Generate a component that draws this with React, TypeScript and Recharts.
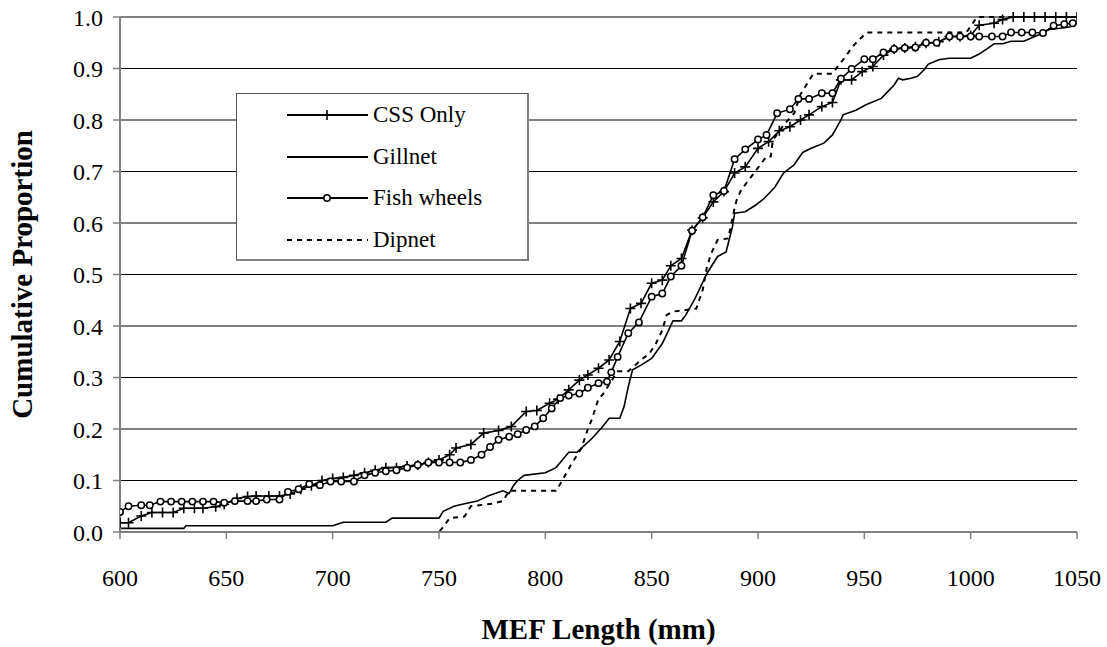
import * as React from 'react';
import { LineChart, Line, XAxis, YAxis, CartesianGrid, Legend, Label } from 'recharts';

const FONT = '"Liberation Serif", "Times New Roman", serif';

const xTicks = [600, 650, 700, 750, 800, 850, 900, 950, 1000, 1050];
const yTicks = [0, 0.1, 0.2, 0.3, 0.4, 0.5, 0.6, 0.7, 0.8, 0.9, 1.0];

// CSS Only
const cssLength = [600, 604, 610, 615, 620, 625, 630, 635, 639, 645, 649, 655, 660, 664, 670, 675, 680, 685, 690, 695, 700, 705, 710, 715, 720, 725, 730, 735, 740, 745, 750, 755, 758, 765, 771, 778, 784, 791, 796, 802, 806, 811, 816, 820, 825, 830, 835, 840, 845, 850, 855, 859, 864, 869, 874, 879, 884, 889, 894, 900, 905, 910, 915, 920, 924, 930, 935, 939, 944, 949, 954, 959, 964, 969, 974, 979, 985, 990, 995, 1000, 1004, 1011, 1015, 1020, 1025, 1030, 1035, 1040, 1045, 1050];
const cssProp = [0.018, 0.018, 0.031, 0.038, 0.038, 0.038, 0.046, 0.046, 0.046, 0.049, 0.054, 0.065, 0.069, 0.07, 0.07, 0.07, 0.074, 0.083, 0.09, 0.1, 0.104, 0.106, 0.11, 0.115, 0.12, 0.125, 0.125, 0.128, 0.13, 0.135, 0.14, 0.15, 0.163, 0.17, 0.192, 0.197, 0.205, 0.234, 0.236, 0.25, 0.258, 0.276, 0.295, 0.305, 0.318, 0.334, 0.37, 0.434, 0.444, 0.483, 0.489, 0.517, 0.531, 0.586, 0.61, 0.641, 0.661, 0.697, 0.709, 0.745, 0.758, 0.779, 0.787, 0.8, 0.81, 0.826, 0.834, 0.878, 0.878, 0.894, 0.904, 0.926, 0.938, 0.94, 0.942, 0.949, 0.952, 0.962, 0.962, 0.964, 0.984, 0.988, 0.995, 1, 1, 1, 1, 1, 1, 1];

// Gillnet
const gnLength = [600, 630, 631, 700, 705, 725, 728, 750, 752, 757, 762, 768, 773, 780, 783, 785, 787, 790, 800, 805, 808, 811, 815, 817, 822, 827, 830, 835, 837, 839, 841, 845, 850, 855, 858, 860, 864, 866, 870, 873, 876, 881, 885, 888, 889, 894, 899, 903, 908, 912, 917, 921, 925, 931, 935, 939, 940, 946, 951, 958, 961, 964, 966, 968, 972, 975, 978, 980, 985, 990, 1000, 1004, 1008, 1011, 1015, 1019, 1025, 1029, 1033, 1037, 1042, 1047, 1050];
const gnProp = [0.007, 0.007, 0.012, 0.012, 0.019, 0.019, 0.027, 0.027, 0.04, 0.05, 0.055, 0.06, 0.07, 0.08, 0.075, 0.09, 0.1, 0.11, 0.115, 0.125, 0.14, 0.155, 0.155, 0.163, 0.182, 0.205, 0.221, 0.221, 0.243, 0.282, 0.315, 0.324, 0.337, 0.366, 0.392, 0.41, 0.41, 0.421, 0.45, 0.476, 0.502, 0.535, 0.544, 0.593, 0.619, 0.622, 0.635, 0.648, 0.67, 0.697, 0.713, 0.737, 0.745, 0.755, 0.771, 0.8, 0.81, 0.819, 0.83, 0.842, 0.855, 0.868, 0.881, 0.878, 0.881, 0.885, 0.897, 0.908, 0.917, 0.92, 0.92, 0.928, 0.939, 0.948, 0.948, 0.953, 0.953, 0.96, 0.967, 0.976, 0.978, 0.981, 0.988];

// Fish wheels
const fwLength = [600, 604, 610, 614, 619, 624, 629, 634, 639, 644, 649, 654, 660, 664, 669, 675, 679, 684, 689, 694, 699, 704, 710, 715, 720, 725, 730, 735, 740, 745, 750, 755, 760, 765, 770, 774, 778, 783, 787, 791, 795, 799, 803, 807, 811, 816, 820, 825, 829, 831, 834, 839, 844, 850, 855, 859, 864, 869, 874, 879, 884, 889, 894, 900, 904, 909, 915, 919, 924, 930, 935, 939, 944, 950, 954, 959, 964, 969, 974, 979, 984, 990, 995, 1000, 1004, 1010, 1015, 1019, 1024, 1029, 1034, 1039, 1044, 1048];
const fwProp = [0.039, 0.05, 0.052, 0.052, 0.059, 0.059, 0.059, 0.059, 0.059, 0.059, 0.057, 0.06, 0.06, 0.06, 0.063, 0.063, 0.078, 0.083, 0.093, 0.091, 0.098, 0.098, 0.098, 0.11, 0.115, 0.118, 0.12, 0.125, 0.13, 0.135, 0.135, 0.135, 0.135, 0.14, 0.15, 0.165, 0.179, 0.185, 0.19, 0.198, 0.205, 0.221, 0.24, 0.26, 0.265, 0.269, 0.28, 0.289, 0.292, 0.31, 0.34, 0.386, 0.407, 0.457, 0.463, 0.496, 0.517, 0.585, 0.611, 0.654, 0.662, 0.724, 0.743, 0.762, 0.771, 0.813, 0.821, 0.841, 0.841, 0.852, 0.852, 0.88, 0.899, 0.918, 0.918, 0.931, 0.938, 0.94, 0.941, 0.95, 0.95, 0.962, 0.962, 0.962, 0.962, 0.962, 0.962, 0.97, 0.97, 0.97, 0.969, 0.983, 0.986, 0.988];

// Dipnet
const dpLength = [600, 750, 752, 755, 762, 765, 775, 780, 783, 805, 808, 812, 815, 817, 820, 822, 825, 827, 834, 839, 845, 849, 852, 855, 857, 860, 866, 871, 874, 876, 878, 881, 886, 889, 890, 892, 895, 904, 906, 907, 912, 917, 920, 926, 935, 940, 945, 951, 998, 1003, 1050];
const dpProp = [0, 0, 0.01, 0.027, 0.03, 0.05, 0.055, 0.06, 0.08, 0.08, 0.1, 0.13, 0.15, 0.163, 0.2, 0.22, 0.259, 0.267, 0.312, 0.312, 0.334, 0.347, 0.366, 0.392, 0.421, 0.428, 0.431, 0.434, 0.47, 0.515, 0.541, 0.567, 0.57, 0.629, 0.645, 0.664, 0.68, 0.729, 0.729, 0.761, 0.79, 0.813, 0.85, 0.89, 0.89, 0.917, 0.945, 0.97, 0.97, 1, 1];

const toPoints = (xs: number[], ps: number[]) => xs.map((x, i) => ({ x, p: ps[i] }));

const cssData = toPoints(cssLength, cssProp);
const gnData = toPoints(gnLength, gnProp);
const fwData = toPoints(fwLength, fwProp);
const dpData = toPoints(dpLength, dpProp);

const PlusDot = (props: any) => {
  const { cx, cy, index } = props;
  if (cx == null || cy == null) return <g key={`css-${index}`} />;
  return (
    <path
      key={`css-${index}`}
      d={`M${cx - 5},${cy}H${cx + 5}M${cx},${cy - 5}V${cy + 5}`}
      stroke="#000"
      strokeWidth={1.6}
      fill="none"
    />
  );
};

const CircleDot = (props: any) => {
  const { cx, cy, index } = props;
  if (cx == null || cy == null) return <g key={`fw-${index}`} />;
  return <circle key={`fw-${index}`} cx={cx} cy={cy} r={3.2} fill="#fff" stroke="#000" strokeWidth={1.5} />;
};

const legendItems = [
  { name: 'CSS Only', marker: 'plus', dash: undefined },
  { name: 'Gillnet', marker: 'none', dash: undefined },
  { name: 'Fish wheels', marker: 'circle', dash: undefined },
  { name: 'Dipnet', marker: 'none', dash: '5 5' },
];

const LegendBox = () => (
  <div
    style={{
      width: 293,
      height: 168,
      boxSizing: 'border-box',
      border: '1px solid #555',
      borderRightWidth: 2,
      borderBottomWidth: 2,
      borderRightColor: '#808080',
      borderBottomColor: '#808080',
      background: '#fff',
      fontFamily: FONT,
      fontSize: 23,
      color: '#000',
    }}
  >
    {legendItems.map((item) => (
      <div key={item.name} style={{ height: 41.7, display: 'flex', alignItems: 'center' }}>
        <svg width={136} height={20} style={{ flex: 'none' }}>
          <line x1={50} y1={10} x2={131} y2={10} stroke="#000" strokeWidth={1.8} strokeDasharray={item.dash} />
          {item.marker === 'plus' && <path d="M85,10H95M90,5V15" stroke="#000" strokeWidth={1.6} />}
          {item.marker === 'circle' && <circle cx={90} cy={10} r={3.2} fill="#fff" stroke="#000" strokeWidth={1.5} />}
        </svg>
        <span>{item.name}</span>
      </div>
    ))}
  </div>
);

export default function App() {
  return (
    <div style={{ position: 'absolute', left: 0, top: 0, background: '#fff' }}>
      <LineChart width={1107} height={647} margin={{ top: 17, right: 30, left: 0, bottom: 0 }}>
        <CartesianGrid horizontal vertical={false} stroke="#000" strokeWidth={1} />
        <XAxis
          dataKey="x"
          type="number"
          domain={[600, 1050]}
          ticks={xTicks}
          allowDataOverflow
          height={115}
          tickSize={7}
          tickMargin={30}
          tick={{ fill: '#000', fontSize: 24, fontFamily: FONT }}
          axisLine={{ stroke: '#808080', strokeWidth: 2 }}
          tickLine={{ stroke: '#808080', strokeWidth: 1.5 }}
        >
          <Label
            content={({ viewBox }: any) => (
              <text
                x={viewBox.x + viewBox.width / 2}
                y={viewBox.y + 107}
                textAnchor="middle"
                fontFamily={FONT}
                fontWeight="bold"
                fontSize={29}
                fill="#000"
              >
                MEF Length (mm)
              </text>
            )}
          />
        </XAxis>
        <YAxis
          type="number"
          domain={[0, 1]}
          ticks={yTicks}
          width={120}
          tickSize={7}
          tickMargin={10}
          tickFormatter={(v: number) => v.toFixed(1)}
          tick={{ fill: '#000', fontSize: 24, fontFamily: FONT }}
          axisLine={{ stroke: '#808080', strokeWidth: 2 }}
          tickLine={{ stroke: '#808080', strokeWidth: 1.5 }}
        >
          <Label
            content={({ viewBox }: any) => {
              const cx = 22;
              const cy = viewBox.y + viewBox.height / 2;
              return (
                <text
                  x={cx}
                  y={cy}
                  transform={`rotate(-90, ${cx}, ${cy})`}
                  textAnchor="middle"
                  dominantBaseline="central"
                  fontFamily={FONT}
                  fontWeight="bold"
                  fontSize={29}
                  fill="#000"
                >
                  Cumulative Proportion
                </text>
              );
            }}
          />
        </YAxis>
        <Legend
          layout="horizontal"
          verticalAlign="middle"
          align="center"
          content={() => <LegendBox />}
          wrapperStyle={{ left: 236, top: 93, width: 293, height: 168 }}
        />
        <Line data={gnData} dataKey="p" name="Gillnet" type="linear" stroke="#000" strokeWidth={1.6} dot={false} isAnimationActive={false} />
        <Line data={dpData} dataKey="p" name="Dipnet" type="linear" stroke="#000" strokeWidth={2} strokeDasharray="5 5" dot={false} isAnimationActive={false} />
        <Line data={cssData} dataKey="p" name="CSS Only" type="linear" stroke="#000" strokeWidth={1.6} dot={PlusDot} isAnimationActive={false} />
        <Line data={fwData} dataKey="p" name="Fish wheels" type="linear" stroke="#000" strokeWidth={1.6} dot={CircleDot} isAnimationActive={false} />
      </LineChart>
    </div>
  );
}
